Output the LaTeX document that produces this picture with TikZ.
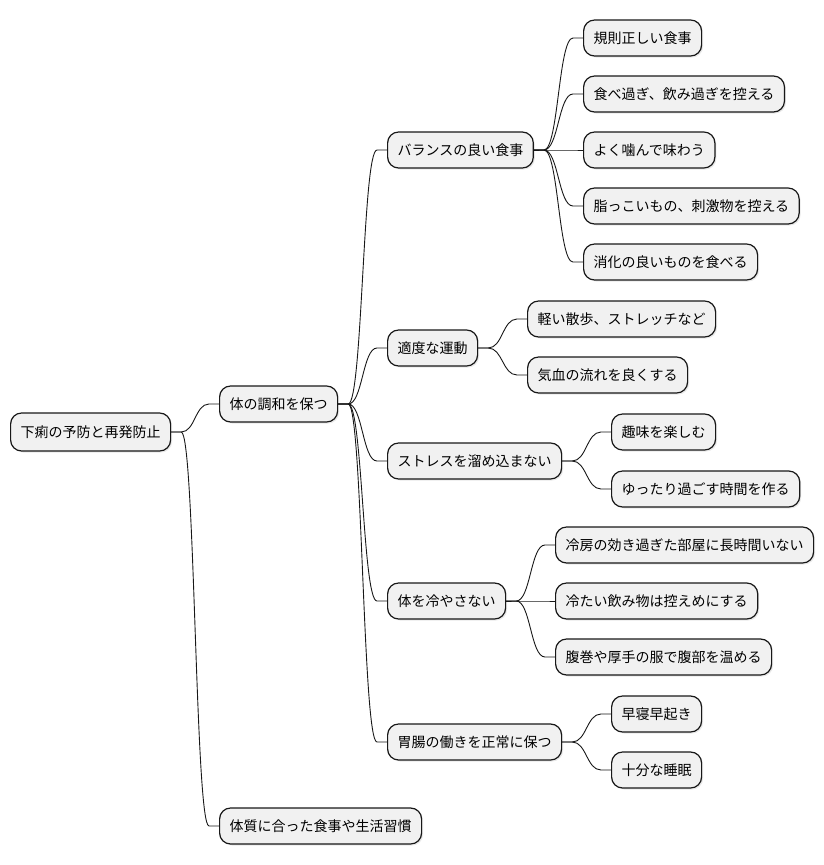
\documentclass[tikz,border=0pt]{standalone}
\usepackage{fontspec}
\setmainfont{Noto Sans CJK JP}
\usetikzlibrary{calc,shadows}
\definecolor{nodefill}{HTML}{F1F1F1}
\definecolor{nodeline}{HTML}{181818}
\tikzset{
 mm/.style={draw=nodeline, fill=nodefill, line width=1.2pt, rounded corners=11pt,
   minimum height=36pt, inner xsep=10pt, inner ysep=0pt, anchor=west,
   font=\fontsize{14pt}{16pt}\selectfont, text=black,
   drop shadow={opacity=0.18, shadow xshift=1.5pt, shadow yshift=-1.5pt}},
 link/.style={draw=nodeline, line width=0.9pt}
}
\newcommand\mmlink[2]{\draw[link] let \p1=(#1.east), \p2=(#2.west) in
  (\p1) -- (\x1+10pt,\y1) .. controls ({(\x1+\x2)/2},\y1) and ({(\x1+\x2)/2},\y2) .. (\x2-10pt,\y2) -- (\p2);}
\begin{document}
\begin{tikzpicture}[x=1pt,y=-1pt]
\useasboundingbox (0,0) rectangle (824,865);
\node[mm, minimum height=38pt] (root) at (10,432) {下痢の予防と再発防止};
\node[mm] (a) at (219,404) {体の調和を保つ};
\node[mm] (b) at (219,826) {体質に合った食事や生活習慣};
\node[mm] (a1) at (387,150) {バランスの良い食事};
\node[mm] (a2) at (387,348) {適度な運動};
\node[mm] (a3) at (387,461) {ストレスを溜め込まない};
\node[mm] (a4) at (387,601) {体を冷やさない};
\node[mm] (a5) at (387,742) {胃腸の働きを正常に保つ};
\node[mm] (l11) at (583,38) {規則正しい食事};
\node[mm] (l12) at (583,94) {食べ過ぎ、飲み過ぎを控える};
\node[mm] (l13) at (583,150) {よく噛んで味わう};
\node[mm] (l14) at (583,206) {脂っこいもの、刺激物を控える};
\node[mm] (l15) at (583,262) {消化の良いものを食べる};
\node[mm] (l21) at (527,319) {軽い散歩、ストレッチなど};
\node[mm] (l22) at (527,375) {気血の流れを良くする};
\node[mm] (l31) at (611,432) {趣味を楽しむ};
\node[mm] (l32) at (611,489) {ゆったり過ごす時間を作る};
\node[mm] (l41) at (555,545) {冷房の効き過ぎた部屋に長時間いない};
\node[mm] (l42) at (555,601) {冷たい飲み物は控えめにする};
\node[mm] (l43) at (555,657) {腹巻や厚手の服で腹部を温める};
\node[mm] (l51) at (611,714) {早寝早起き};
\node[mm] (l52) at (611,770) {十分な睡眠};
\mmlink{root}{a}
\mmlink{root}{b}
\mmlink{a}{a1}
\mmlink{a}{a2}
\mmlink{a}{a3}
\mmlink{a}{a4}
\mmlink{a}{a5}
\mmlink{a1}{l11}
\mmlink{a1}{l12}
\mmlink{a1}{l13}
\mmlink{a1}{l14}
\mmlink{a1}{l15}
\mmlink{a2}{l21}
\mmlink{a2}{l22}
\mmlink{a3}{l31}
\mmlink{a3}{l32}
\mmlink{a4}{l41}
\mmlink{a4}{l42}
\mmlink{a4}{l43}
\mmlink{a5}{l51}
\mmlink{a5}{l52}
\end{tikzpicture}
\end{document}
